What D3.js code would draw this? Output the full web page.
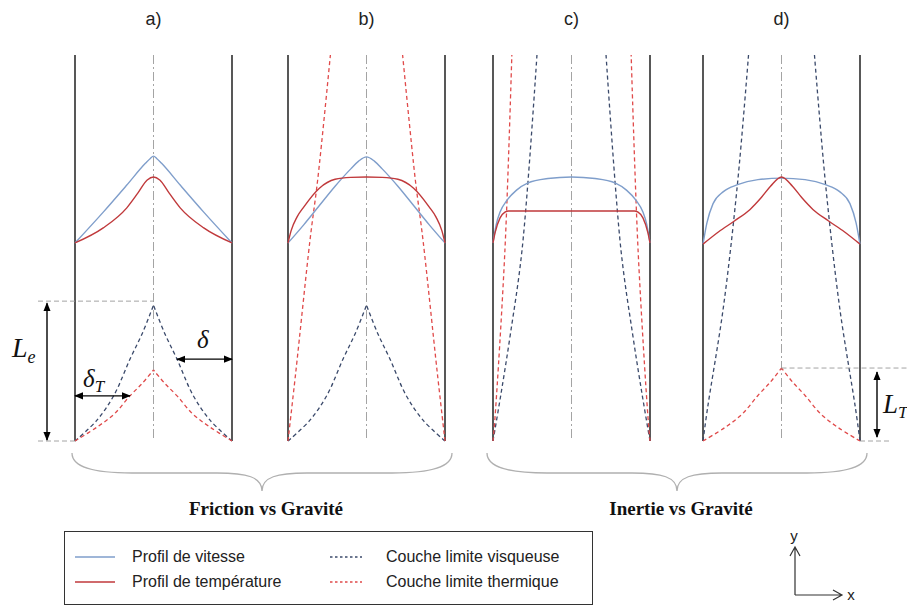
<!DOCTYPE html>
<html><head><meta charset="utf-8">
<script src="https://cdn.jsdelivr.net/npm/d3@7"></script>
<style>body{margin:0;background:#fff}svg{display:block}</style>
</head><body><svg id="c" width="907" height="606"></svg>
<script>
// ---------- data (half profiles: [x across channel 0..0.5, height]) ----------
const panelLabels = ["a)", "b)", "c)", "d)"];
const velocityA = [[0,5.13],[0.18,5.93],[0.33,6.63],[0.45,7.2],[0.48,7.32],[0.5,7.38]];
const velocityB = [[0,5.13],[0.1,5.6],[0.2,6.1],[0.3,6.6],[0.4,7.05],[0.45,7.25],[0.5,7.36]];
const velocityC = [[0,5.13],[0.02,5.6],[0.045,5.93],[0.09,6.24],[0.15,6.5],[0.22,6.68],[0.35,6.8],[0.5,6.84]];
const velocityD = [[0,5.1],[0.025,5.65],[0.064,6.15],[0.13,6.46],[0.22,6.64],[0.35,6.77],[0.5,6.81]];
const temperatureA = [[0,5.13],[0.18,5.52],[0.33,6.04],[0.4,6.42],[0.46,6.76],[0.5,6.84]];
const temperatureB = [[0,5.13],[0.02,5.45],[0.057,5.8],[0.1,6.06],[0.2,6.55],[0.3,6.78],[0.4,6.83],[0.5,6.84]];
const temperatureC = [[0,5.13],[0.013,5.39],[0.045,5.78],[0.076,5.93],[0.1,5.96],[0.5,5.96]];
const temperatureD = [[0,5.1],[0.1,5.42],[0.2,5.7],[0.3,6.0],[0.37,6.3],[0.43,6.6],[0.5,6.84]];
// boundary layers: [distance from wall, height]
const viscousA = [[0,0],[0.14,0.54],[0.25,1.2],[0.35,2.12],[0.43,2.8],[0.5,3.52]];
const viscousB = [[0,0],[0.14,0.54],[0.25,1.2],[0.35,2.12],[0.43,2.8],[0.5,3.52]];
const viscousC = [[0,0],[0.05,1.2],[0.11,2.75],[0.185,4.95],[0.28,10]];
const viscousD = [[0,0],[0.03,0.88],[0.13,3.47],[0.22,6.68],[0.29,10]];
const thermalA = [[0,0],[0.14,0.36],[0.25,0.7],[0.35,1.17],[0.43,1.5],[0.5,1.84]];
const thermalB = [[0,0],[0.05,1.8],[0.14,5.2],[0.19,6.8],[0.27,10]];
const thermalC = [[0,0],[0.013,0.62],[0.076,4.95],[0.12,10]];
const thermalD = [[0,0],[0.14,0.35],[0.25,0.7],[0.35,1.18],[0.43,1.53],[0.5,1.89]];
const deltaHeight = 2.12, deltaTHeight = 1.17;
const groupLabels = ["Friction vs Gravité", "Inertie vs Gravité"];
const legendLabels = ["Profil de vitesse", "Profil de température", "Couche limite visqueuse", "Couche limite thermique"];

const velocity = [velocityA, velocityB, velocityC, velocityD];
const temperature = [temperatureA, temperatureB, temperatureC, temperatureD];
const viscous = [viscousA, viscousB, viscousC, viscousD];
const thermal = [thermalA, thermalB, thermalC, thermalD];

// ---------- styles ----------
const C = {vel:"#7f9ecb", temp:"#c0393b", visc:"#3b4a6b", therm:"#e04a4a", center:"#9a9a9a", guide:"#9a9a9a", brace:"#b0b0b0"};

const svg = d3.select("#c");
const defs = svg.append("defs");
defs.append("marker").attr("id","ah").attr("viewBox","0 0 10 10").attr("refX",9).attr("refY",5)
  .attr("markerWidth",9).attr("markerHeight",9).attr("markerUnits","userSpaceOnUse").attr("orient","auto-start-reverse")
  .append("path").attr("d","M0,1 L10,5 L0,9 Z").attr("fill","#000");

const panelLeft = d3.scaleOrdinal().domain(panelLabels).range([75, 288, 493, 703]);
const W = 157;
const xs = p => d3.scaleLinear().domain([0,1]).range([panelLeft(p), panelLeft(p) + W]);
const y = d3.scaleLinear().domain([0,10]).range([441, 55]);

const mirror = half => half.concat(half.slice(0,-1).reverse().map(([a,h]) => [1-a,h]));

panelLabels.forEach((p, i) => {
  const x = xs(p);
  const g = svg.append("g");
  g.append("text").attr("x", x(0.5)).attr("y", 25).attr("text-anchor","middle")
    .attr("font-family","Liberation Sans, Arial, sans-serif").attr("font-size",18).attr("fill","#222").text(p);
  g.append("line").attr("x1",x(0.5)).attr("x2",x(0.5)).attr("y1",y(10)).attr("y2",y(0))
    .attr("stroke",C.center).attr("stroke-width",0.9).attr("stroke-dasharray","9,3,2,3");
  [0,1].forEach(w => g.append("line").attr("x1",x(w)).attr("x2",x(w)).attr("y1",y(10)).attr("y2",y(0))
    .attr("stroke","#111").attr("stroke-width",1.4));
  const blLine = d3.line().x(d => x(d[0])).y(d => y(d[1])).curve(d3.curveCatmullRom.alpha(0.5));
  [[viscous[i], C.visc], [thermal[i], C.therm]].forEach(([arr, col]) => {
    [arr, arr.map(([a,h]) => [1-a,h])].forEach(half => {
      g.append("path").attr("d", blLine(half)).attr("fill","none").attr("stroke",col)
        .attr("stroke-width",1.3).attr("stroke-dasharray","4,3");
    });
  });
  const prLine = d3.line().x(d => x(d[0])).y(d => y(d[1])).curve(d3.curveMonotoneX);
  g.append("path").attr("d", prLine(mirror(velocity[i]))).attr("fill","none").attr("stroke",C.vel).attr("stroke-width",1.4);
  g.append("path").attr("d", prLine(mirror(temperature[i]))).attr("fill","none").attr("stroke",C.temp).attr("stroke-width",1.4);
});

function offsetAt(arr, h) {
  for (let k = 1; k < arr.length; k++) {
    if (arr[k][1] >= h) { const t = (h - arr[k-1][1]) / (arr[k][1] - arr[k-1][1]); return arr[k-1][0] + t * (arr[k][0] - arr[k-1][0]); }
  }
  return arr[arr.length-1][0];
}

const serif = "Liberation Serif, Times New Roman, serif";
{
  const x = xs("a)");
  const peak = viscousA[viscousA.length-1][1];
  const dash = (x1,x2,yy) => svg.append("line").attr("x1",x1).attr("x2",x2).attr("y1",yy).attr("y2",yy)
    .attr("stroke",C.guide).attr("stroke-width",0.9).attr("stroke-dasharray","5,3");
  dash(38, x(0.5), y(peak) - 4);
  dash(38, x(0), y(0));
  const arrow = (x1,y1,x2,y2) => svg.append("line").attr("x1",x1).attr("y1",y1).attr("x2",x2).attr("y2",y2)
    .attr("stroke","#000").attr("stroke-width",1.4).attr("marker-start","url(#ah)").attr("marker-end","url(#ah)");
  arrow(47, y(peak) - 2, 47, y(0) - 1);
  const dOff = offsetAt(viscousA, deltaHeight);
  arrow(x(1 - dOff), y(deltaHeight), x(1), y(deltaHeight));
  const tOff = offsetAt(thermalA, deltaTHeight);
  arrow(x(0), y(deltaTHeight), x(tOff), y(deltaTHeight));
  const le = svg.append("text").attr("x",12).attr("y",357).attr("font-family",serif).attr("font-style","italic").attr("font-size",28).attr("fill","#111");
  le.append("tspan").text("L");
  le.append("tspan").attr("font-size",18).attr("dy",6).text("e");
  svg.append("text").attr("x",197).attr("y",348).attr("font-family",serif).attr("font-style","italic").attr("font-size",25).attr("fill","#111").text("δ");
  const dt = svg.append("text").attr("x",83).attr("y",387).attr("font-family",serif).attr("font-style","italic").attr("font-size",25).attr("fill","#111");
  dt.append("tspan").text("δ");
  dt.append("tspan").attr("font-size",17).attr("dy",5).text("T");
}
{
  const x = xs("d)");
  const peak = thermalD[thermalD.length-1][1];
  svg.append("line").attr("x1",x(0.5)).attr("x2",907).attr("y1",y(peak)).attr("y2",y(peak))
    .attr("stroke",C.guide).attr("stroke-width",0.9).attr("stroke-dasharray","5,3");
  svg.append("line").attr("x1",x(1)).attr("x2",890).attr("y1",y(0)).attr("y2",y(0))
    .attr("stroke",C.guide).attr("stroke-width",0.9).attr("stroke-dasharray","5,3");
  svg.append("line").attr("x1",877).attr("x2",877).attr("y1",y(peak)+4).attr("y2",y(0)-4)
    .attr("stroke","#000").attr("stroke-width",1.4).attr("marker-start","url(#ah)").attr("marker-end","url(#ah)");
  const lt = svg.append("text").attr("x",883).attr("y",413).attr("font-family",serif).attr("font-style","italic").attr("font-size",27).attr("fill","#111");
  lt.append("tspan").text("L");
  lt.append("tspan").attr("font-size",17).attr("dy",5).text("T");
}

function brace(x0, x1, cx, y0, y1, y2) {
  const p = d3.path();
  p.moveTo(x0, y0);
  p.bezierCurveTo(x0, y1 - 6, x0 + 20, y1, x0 + 60, y1);
  p.lineTo(cx - 45, y1);
  p.bezierCurveTo(cx - 15, y1, cx, y1 + 4, cx, y2);
  p.bezierCurveTo(cx, y1 + 4, cx + 15, y1, cx + 45, y1);
  p.lineTo(x1 - 60, y1);
  p.bezierCurveTo(x1 - 20, y1, x1, y1 - 6, x1, y0);
  return p.toString();
}
const braceSpans = [[xs("a)")(0) - 3, xs("b)")(1) + 7], [xs("c)")(0) - 6, xs("d)")(1) + 7]];
braceSpans.forEach(([x0, x1], k) => {
  const cx = (x0 + x1) / 2;
  svg.append("path").attr("d", brace(x0, x1, cx, 453, 473, 491)).attr("fill","none").attr("stroke",C.brace).attr("stroke-width",1.3);
  svg.append("text").attr("x", cx + 4).attr("y", 515).attr("text-anchor","middle").attr("font-family",serif)
    .attr("font-weight","bold").attr("font-size",19).attr("fill","#111").text(groupLabels[k]);
});

{
  const lg = svg.append("g");
  lg.append("rect").attr("x",64.5).attr("y",531.5).attr("width",528).attr("height",73).attr("fill","#fff").attr("stroke","#333").attr("stroke-width",1);
  const rows = [557, 582];
  const items = [
    {lab: legendLabels[0], col: C.vel, dash: null, sx: 75, tx: 132, r: 0},
    {lab: legendLabels[1], col: C.temp, dash: null, sx: 75, tx: 132, r: 1},
    {lab: legendLabels[2], col: C.visc, dash: "2.5,2.5", sx: 330, tx: 386, r: 0},
    {lab: legendLabels[3], col: C.therm, dash: "2.5,2.5", sx: 330, tx: 386, r: 1}
  ];
  items.forEach(it => {
    const yy = rows[it.r];
    lg.append("line").attr("x1", it.sx).attr("x2", it.sx + (it.dash ? 32 : 40)).attr("y1", yy).attr("y2", yy)
      .attr("stroke", it.col).attr("stroke-width", 1.4).attr("stroke-dasharray", it.dash);
    lg.append("text").attr("x", it.tx).attr("y", yy + 5).attr("font-family","Liberation Sans, Arial, sans-serif")
      .attr("font-size",16).attr("fill","#222").text(it.lab);
  });
}

{
  const a = svg.append("g").attr("stroke","#333").attr("stroke-width",1.2).attr("fill","none");
  a.append("path").attr("d","M795,595 L795,547 M790,556 L795,547 L800,556");
  a.append("path").attr("d","M795,595 L842,595 M833,590 L842,595 L833,600");
  svg.append("text").attr("x",794).attr("y",541).attr("text-anchor","middle").attr("font-family","Liberation Sans, Arial, sans-serif").attr("font-size",15).attr("fill","#222").text("y");
  svg.append("text").attr("x",851).attr("y",600).attr("text-anchor","middle").attr("font-family","Liberation Sans, Arial, sans-serif").attr("font-size",15).attr("fill","#222").text("x");
}
</script></body></html>
